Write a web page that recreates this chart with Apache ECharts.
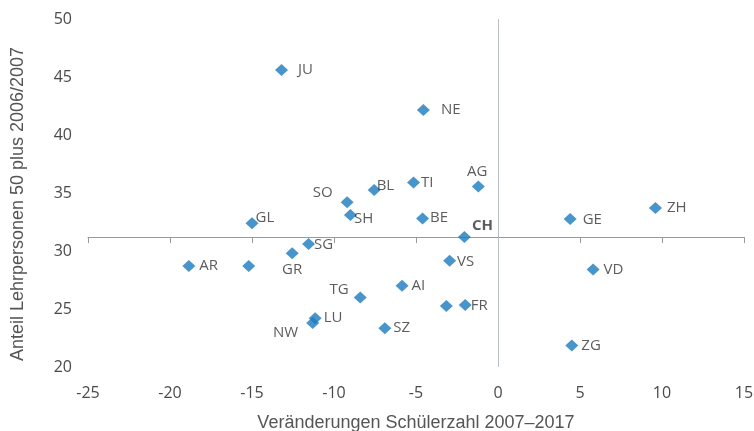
<!DOCTYPE html>
<html>
<head>
<meta charset="utf-8">
<script src="https://cdn.jsdelivr.net/npm/echarts@6/dist/echarts.min.js"></script>
<style>
  html, body { margin: 0; padding: 0; background: #fff; }
  #chart { width: 754px; height: 431px; }
</style>
</head>
<body>
<div id="chart"></div>
<script>
// Kantone (zwei Punkte ohne Beschriftung)
const kantone = ['JU', 'NE', 'BL', 'TI', 'AG', 'SO', 'SH', 'GL', 'BE', 'GE', 'ZH', 'CH', 'SG', 'GR', 'AR', '', 'TG', 'LU', 'NW', 'VS', 'VD', 'AI', '', 'FR', 'SZ', 'ZG'];
// Veränderungen Schülerzahl 2007–2017 (%)
const schuelerVeraenderung = [-13.2, -4.55, -7.55, -5.15, -1.2, -9.2, -9.0, -15.0, -4.6, 4.4, 9.6, -2.05, -11.55, -12.55, -18.85, -15.2, -8.4, -11.15, -11.3, -2.95, 5.8, -5.85, -3.15, -2.0, -6.9, 4.5];
// Anteil Lehrpersonen 50 plus 2006/2007 (%)
const anteil50plus = [45.6, 42.15, 35.25, 35.9, 35.55, 34.2, 33.1, 32.4, 32.8, 32.75, 33.7, 31.2, 30.6, 29.8, 28.7, 28.7, 26.0, 24.2, 23.8, 29.15, 28.4, 27.0, 25.25, 25.35, 23.35, 21.85];

const xTicks = [-25, -20, -15, -10, -5, 0, 5, 10, 15];
const yTicks = [20, 25, 30, 35, 40, 45, 50];

// Schnittpunkt der Achsen: Wert CH
const crossY = anteil50plus[kantone.indexOf('CH')];

// Beschriftungsplatz: [position, dx, dy]
const labelPlace = {
  JU: ['right', 10, 0], NE: ['right', 11, 0], BL: ['right', -4, -4], TI: ['right', 1, 0],
  AG: ['top', -1, 1], SO: ['left', 8, -10], SH: ['right', -3, 4], GL: ['right', -3, -5],
  BE: ['right', 1, -1], GE: ['right', 6, 1], ZH: ['right', 5, 0], CH: ['right', 1, -11],
  SG: ['right', -1, 1], GR: ['bottom', 3, 0], AR: ['right', 4, 0], TG: ['left', 5, -8],
  LU: ['right', 2, -1], NW: ['left', 8, 10], VS: ['right', 1, 1], VD: ['right', 4, 0],
  AI: ['right', 3, 0], FR: ['right', -1, 1], SZ: ['right', 2, 0], ZG: ['right', 3, 0]
};

const labelFont = '"Open Sans", sans-serif';
const titleFont = '"Liberation Sans", Arial, sans-serif';

const points = kantone.map((name, i) => {
  const item = { name: name, value: [schuelerVeraenderung[i], anteil50plus[i]] };
  const p = labelPlace[name];
  if (!p) {
    item.label = { show: false };
  } else {
    const label = { show: true, position: p[0] };
    if (p[0] === 'right') { label.distance = 0; label.offset = [p[1], p[2]]; }
    else if (p[0] === 'left') { label.distance = 0; label.offset = [-p[1], p[2]]; }
    else if (p[0] === 'top') { label.distance = 0; label.offset = [p[1], -p[2]]; }
    else { label.distance = p[1]; label.offset = [p[2], 0]; }
    if (name === 'CH') label.fontWeight = 'bold';
    item.label = label;
  }
  return item;
});

const chart = echarts.init(document.getElementById('chart'));

const option = {
  backgroundColor: '#fff',
  animation: false,
  grid: { left: 88, right: 10, top: 19, bottom: 64, containLabel: false, outerBoundsMode: 'none' },
  xAxis: [
    {
      type: 'value',
      min: xTicks[0],
      max: xTicks[xTicks.length - 1],
      interval: 5,
      position: 'bottom',
      axisLine: { show: false },
      axisTick: { show: false },
      splitLine: { show: false },
      axisLabel: { color: '#4a4a4a', fontSize: 16, fontFamily: labelFont, margin: 18 },
      name: 'Veränderungen Schülerzahl 2007–2017',
      nameLocation: 'middle',
      nameGap: 47,
      nameTextStyle: { color: '#555', fontSize: 18, fontFamily: titleFont }
    },
    {
      type: 'value',
      min: xTicks[0],
      max: xTicks[xTicks.length - 1],
      interval: 5,
      position: 'bottom',
      offset: 0,
      axisLine: { show: true, onZero: false, lineStyle: { color: '#9a9a9a', width: 1 } },
      axisTick: { show: true, length: 6, lineStyle: { color: '#9a9a9a' } },
      axisLabel: { show: false },
      splitLine: { show: false }
    }
  ],
  yAxis: {
    type: 'value',
    min: yTicks[0],
    max: yTicks[yTicks.length - 1],
    interval: 5,
    axisLine: { show: false },
    axisTick: { show: false },
    splitLine: { show: false },
    axisLabel: { color: '#4a4a4a', fontSize: 16, fontFamily: labelFont, margin: 16 },
    name: 'Anteil Lehrpersonen 50 plus 2006/2007',
    nameLocation: 'middle',
    nameGap: 61,
    nameTextStyle: { color: '#555', fontSize: 18, fontFamily: titleFont, padding: [0, 22, 0, 0] }
  },
  series: [
    {
      type: 'scatter',
      xAxisIndex: 0,
      symbol: 'diamond',
      symbolSize: [13, 12],
      itemStyle: { color: '#1a7abf' },
      label: { color: '#333', fontSize: 15, fontFamily: labelFont, formatter: '{b}' },
      data: points,
      markLine: {
        silent: true,
        symbol: 'none',
        label: { show: false },
        lineStyle: { color: '#b9bdc9', width: 1, type: 'solid' },
        data: [{ xAxis: 0 }]
      }
    }
  ]
};

chart.setOption(option);

// zweite x-Achse auf Höhe von CH verschieben
const crossPx = chart.convertToPixel({ yAxisIndex: 0 }, crossY);
const bottomPx = chart.convertToPixel({ yAxisIndex: 0 }, yTicks[0]);
chart.setOption({ xAxis: [{}, { offset: -(bottomPx - crossPx) }] });
</script>
</body>
</html>
